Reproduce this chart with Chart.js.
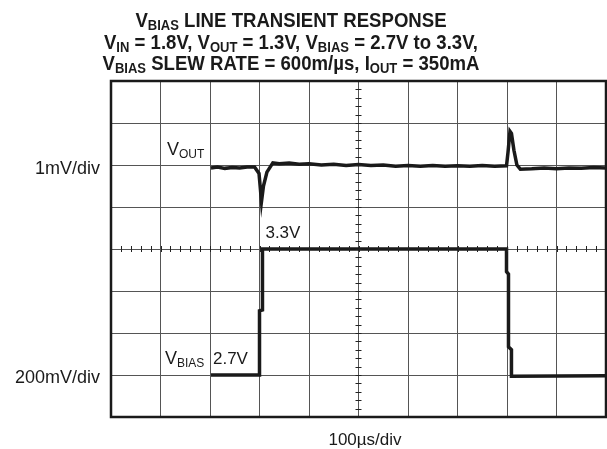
<!DOCTYPE html>
<html>
<head>
<meta charset="utf-8">
<script src="https://cdn.jsdelivr.net/npm/chart.js@4/dist/chart.umd.min.js"></script>
<style>
  html, body { margin: 0; padding: 0; background: #fff; }
  canvas { display: block; }
</style>
</head>
<body>
<canvas id="scope" width="607" height="449"></canvas>
<script>
// time axis in divisions (100us/div), amplitude in divisions from the bottom
const voutTime = [2.02, 2.15, 2.3, 2.45, 2.6, 2.75, 2.9, 2.99, 3.02, 3.04, 3.08, 3.15, 3.27, 3.4, 3.6, 3.8, 4.0, 4.25, 4.5, 4.75, 5.0, 5.25, 5.5, 5.75, 6.0, 6.25, 6.5, 6.75, 7.0, 7.25, 7.5, 7.75, 7.99, 8.02, 8.06, 8.09, 8.14, 8.2, 8.27, 8.5, 8.75, 9.0, 9.25, 9.5, 9.75, 10];
const voutValues = [5.93, 5.95, 5.92, 5.94, 5.93, 5.95, 5.95, 5.8, 5.4, 5.13, 5.5, 5.83, 6.05, 6.03, 6.05, 6.02, 6.03, 6.0, 6.02, 5.99, 6.01, 5.99, 6.0, 5.97, 5.99, 5.97, 5.99, 5.97, 5.98, 5.97, 5.99, 5.97, 5.98, 6.3, 6.8, 6.75, 6.35, 6.0, 5.9, 5.91, 5.93, 5.91, 5.93, 5.92, 5.94, 5.93];

const biasTime = [2.02, 3.0, 3.0, 3.06, 3.06, 7.99, 7.99, 8.03, 8.03, 8.09, 8.09, 10];
const biasValues = [1.0, 1.0, 2.53, 2.55, 4.0, 4.0, 3.46, 3.4, 1.67, 1.6, 0.97, 0.98];

const xDivs = 10;
const yDivs = 8;

const titleLines = [
  [["V"], ["BIAS", true], [" LINE TRANSIENT RESPONSE"]],
  [["V"], ["IN", true], [" = 1.8V, V"], ["OUT", true], [" = 1.3V, V"], ["BIAS", true], [" = 2.7V to 3.3V,"]],
  [["V"], ["BIAS", true], [" SLEW RATE = 600m/\u00B5s, I"], ["OUT", true], [" = 350mA"]],
];

const FONT = '"Liberation Sans", Arial, Helvetica, sans-serif';

function toPoints(xs, ys) {
  return xs.map((x, i) => ({ x, y: ys[i] }));
}

// draws a run of text pieces, some of them subscripts
function drawRich(ctx, parts, x, y, size, bold, align, squeeze) {
  const w = bold ? "bold " : "";
  const subSize = Math.round(size * 0.68);
  ctx.save();
  ctx.textBaseline = "alphabetic";
  ctx.textAlign = "left";
  let total = 0;
  parts.forEach(([t, sub]) => {
    ctx.font = `${w}${sub ? subSize : size}px ${FONT}`;
    total += ctx.measureText(t).width;
  });
  let sx = x;
  if (align === "center") sx = x - (total * squeeze) / 2;
  ctx.translate(sx, y);
  ctx.scale(squeeze, 1);
  let cx = 0;
  parts.forEach(([t, sub]) => {
    ctx.font = `${w}${sub ? subSize : size}px ${FONT}`;
    ctx.fillText(t, cx, sub ? size * 0.17 : 0);
    cx += ctx.measureText(t).width;
  });
  ctx.restore();
}

const scopeDecor = {
  id: "scopeDecor",
  afterDatasetsDraw(chart) {
    const { ctx, chartArea: a, scales } = chart;
    const xs = scales.x, ys = scales.y;
    ctx.save();

    // minor ticks on the centre cross
    ctx.strokeStyle = "#222";
    ctx.lineWidth = 1;
    const cx = xs.getPixelForValue(xDivs / 2);
    const cy = ys.getPixelForValue(yDivs / 2);
    ctx.beginPath();
    for (let v = 0; v <= yDivs; v += 0.2) {
      const py = Math.round(ys.getPixelForValue(v)) + 0.5;
      ctx.moveTo(cx - 3, py);
      ctx.lineTo(cx + 3, py);
    }
    for (let v = 0; v <= xDivs; v += 0.2) {
      const px = Math.round(xs.getPixelForValue(v)) + 0.5;
      ctx.moveTo(px, cy - 3);
      ctx.lineTo(px, cy + 3);
    }
    ctx.stroke();

    // frame
    ctx.strokeStyle = "#1a1a1a";
    ctx.lineWidth = 2.5;
    ctx.strokeRect(a.left, a.top, a.right - a.left, a.bottom - a.top);

    ctx.fillStyle = "#1a1a1a";
    // titles
    titleLines.forEach((line, i) => {
      drawRich(ctx, line, 291, 27 + i * 21.5, 20, true, "center", 0.93);
    });

    // trace labels
    drawRich(ctx, [["V"], ["OUT", true]], xs.getPixelForValue(1.13), ys.getPixelForValue(6.24), 18, false, "left", 1);
    drawRich(ctx, [["3.3V"]], xs.getPixelForValue(3.12), ys.getPixelForValue(4.26), 17, false, "left", 1);
    drawRich(ctx, [["V"], ["BIAS", true]], xs.getPixelForValue(1.09), ys.getPixelForValue(1.26), 18, false, "left", 1);
    drawRich(ctx, [["2.7V"]], xs.getPixelForValue(2.06), ys.getPixelForValue(1.26), 17, false, "left", 1);

    // axis scale labels
    ctx.font = `18px ${FONT}`;
    ctx.textAlign = "right";
    ctx.textBaseline = "alphabetic";
    ctx.fillText("1mV/div", 100, 174);
    ctx.fillText("200mV/div", 100, 383);
    ctx.textAlign = "center";
    ctx.font = `17px ${FONT}`;
    ctx.fillText("100\u00B5s/div", 365, 445);
    ctx.restore();
  },
};

new Chart(document.getElementById("scope"), {
  type: "line",
  data: {
    datasets: [
      {
        label: "VOUT",
        data: toPoints(voutTime, voutValues),
        borderColor: "#1a1a1a",
        borderWidth: 3.5,
        pointRadius: 0,
        tension: 0,
        fill: false,
      },
      {
        label: "VBIAS",
        data: toPoints(biasTime, biasValues),
        borderColor: "#1a1a1a",
        borderWidth: 3.5,
        pointRadius: 0,
        tension: 0,
        fill: false,
      },
    ],
  },
  options: {
    responsive: false,
    animation: false,
    events: [],
    layout: { padding: { left: 111, top: 81, right: 1, bottom: 32 } },
    plugins: {
      legend: { display: false },
      tooltip: { enabled: false },
      title: { display: false },
    },
    scales: {
      x: {
        type: "linear",
        min: 0,
        max: xDivs,
        ticks: { display: false, stepSize: 1 },
        grid: { color: "#555", lineWidth: 1, drawTicks: false },
        border: { display: false },
      },
      y: {
        type: "linear",
        min: 0,
        max: yDivs,
        ticks: { display: false, stepSize: 1 },
        grid: { color: "#555", lineWidth: 1, drawTicks: false },
        border: { display: false },
      },
    },
  },
  plugins: [scopeDecor],
});
</script>
</body>
</html>
